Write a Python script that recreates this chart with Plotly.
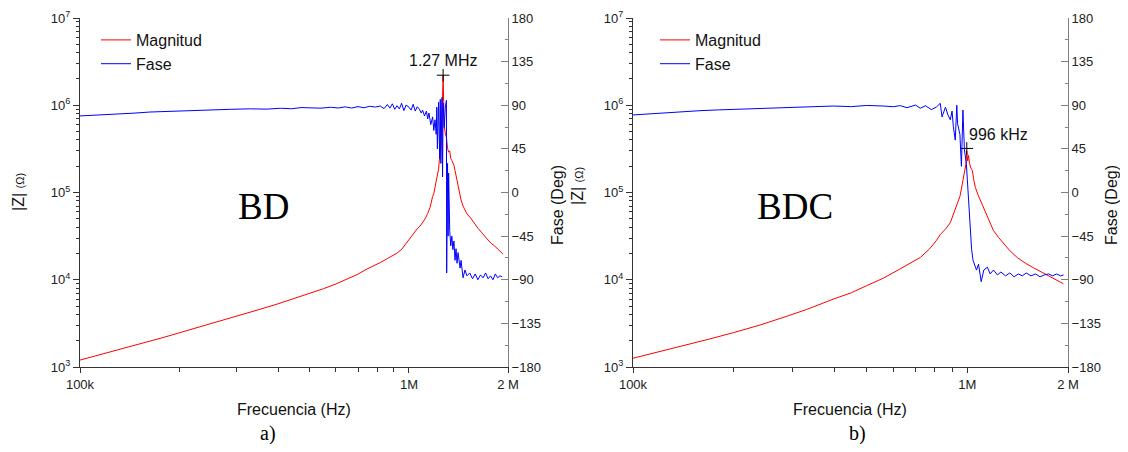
import math
import plotly.graph_objects as go

# ---------------- data ----------------
BD_MAG_F = [1.00e5, 1.10e5, 1.20e5, 1.32e5, 1.45e5, 1.60e5, 1.80e5, 2.00e5, 2.25e5, 2.50e5,
            2.80e5, 3.10e5, 3.50e5, 4.00e5, 4.50e5, 5.00e5, 5.50e5, 6.00e5, 6.50e5, 7.00e5,
            7.40e5, 7.80e5, 8.20e5, 8.60e5, 8.90e5, 9.20e5, 9.50e5, 9.75e5, 1.00e6, 1.02e6,
            1.04e6, 1.06e6, 1.08e6, 1.10e6, 1.12e6, 1.14e6, 1.16e6, 1.18e6, 1.19e6, 1.20e6,
            1.21e6, 1.22e6, 1.23e6, 1.24e6, 1.25e6, 1.26e6, 1.27e6, 1.275e6, 1.28e6, 1.29e6,
            1.30e6, 1.31e6, 1.32e6, 1.33e6, 1.34e6, 1.35e6, 1.37e6, 1.38e6, 1.40e6, 1.42e6,
            1.44e6, 1.46e6, 1.48e6, 1.50e6, 1.54e6, 1.58e6, 1.62e6, 1.66e6, 1.70e6, 1.74e6,
            1.78e6, 1.82e6, 1.86e6, 1.90e6, 1.93e6]
BD_MAG = [1200, 1320, 1440, 1590, 1750, 1930, 2190, 2460, 2790, 3120,
          3530, 3960, 4550, 5300, 6100, 6950, 7900, 8950, 10200, 11600,
          13100, 14300, 15800, 17500, 18800, 20200, 22300, 25500, 29000, 31500,
          34500, 38500, 41000, 45500, 50000, 57400, 68000, 90000, 97500, 115000,
          135000, 160000, 185000, 260000, 330000, 700000, 2210000, 1100000, 580000, 470000,
          430000, 320000, 290000, 300000, 245000, 233000, 205000, 179000, 135000, 105000,
          82000, 70000, 63000, 57000, 51000, 44000, 39000, 35000, 32000, 28500,
          26000, 24500, 22500, 20800, 19700]

BD_PH_F = [1.00e5, 1.10e5, 1.20e5, 1.32e5, 1.45e5, 1.63e5, 1.80e5, 2.00e5, 2.16e5, 2.50e5,
           2.86e5, 3.30e5, 3.70e5, 4.06e5, 4.40e5, 4.70e5, 5.00e5, 5.40e5, 5.77e5, 6.10e5,
           6.40e5, 6.70e5, 7.00e5, 7.30e5, 7.60e5, 7.90e5, 8.18e5, 8.40e5, 8.60e5, 8.75e5,
           8.90e5, 9.05e5, 9.20e5, 9.35e5, 9.50e5, 9.65e5, 9.80e5, 1.00e6, 1.015e6, 1.03e6,
           1.045e6, 1.06e6, 1.075e6, 1.09e6, 1.10e6, 1.115e6, 1.13e6, 1.14e6, 1.15e6, 1.165e6,
           1.18e6, 1.19e6, 1.20e6, 1.21e6, 1.215e6, 1.22e6, 1.23e6, 1.24e6, 1.245e6, 1.25e6,
           1.26e6, 1.265e6, 1.27e6, 1.28e6, 1.29e6, 1.30e6, 1.302e6, 1.31e6, 1.315e6, 1.32e6,
           1.33e6, 1.34e6, 1.35e6, 1.36e6, 1.37e6, 1.38e6, 1.39e6, 1.40e6, 1.41e6, 1.43e6,
           1.44e6, 1.46e6, 1.48e6, 1.50e6, 1.53e6, 1.56e6, 1.59e6, 1.62e6, 1.65e6, 1.68e6,
           1.71e6, 1.74e6, 1.77e6, 1.80e6, 1.83e6, 1.86e6, 1.89e6, 1.92e6]
BD_PH = [79.0, 79.6, 80.3, 81.0, 81.8, 83.0, 83.6, 84.3, 84.8, 85.3,
         85.8, 86.3, 86.0, 86.9, 86.4, 87.6, 87.3, 87.0, 87.9, 87.2,
         88.3, 87.1, 88.6, 87.4, 89.0, 88.1, 89.2, 86.5, 90.8, 87.0,
         91.5, 85.8, 89.5, 86.2, 92.0, 84.5, 90.2, 88.0, 85.0, 91.0,
         84.0, 88.5, 86.0, 82.0, 85.0, 79.0, 84.0, 76.0, 82.0, 70.0,
         78.0, 64.0, 75.0, 60.0, 88.0, 45.0, 93.0, 35.0, 96.0, 30.0,
         98.0, 16.0, 92.0, 67.0, 88.0, 95.0, -83.0, 30.0, -45.0, 20.0,
         -39.0, -55.0, -45.0, -59.0, -50.0, -70.0, -58.0, -73.0, -62.0, -78.0,
         -70.0, -88.0, -80.0, -86.0, -83.0, -89.0, -84.0, -90.0, -85.0, -88.0,
         -83.0, -89.0, -86.0, -90.0, -84.0, -88.0, -86.0, -87.0]

BDC_MAG_F = [1.00e5, 1.20e5, 1.41e5, 1.70e5, 2.00e5, 2.40e5, 2.81e5, 3.30e5, 3.97e5, 4.50e5,
             4.99e5, 5.60e5, 6.29e5, 6.80e5, 7.23e5, 7.70e5, 8.07e5, 8.30e5, 8.60e5, 8.89e5,
             9.10e5, 9.30e5, 9.50e5, 9.60e5, 9.70e5, 9.80e5, 9.90e5, 9.96e5, 1.002e6, 1.008e6,
             1.015e6, 1.025e6, 1.035e6, 1.045e6, 1.057e6, 1.075e6, 1.094e6, 1.12e6, 1.148e6, 1.17e6,
             1.197e6, 1.24e6, 1.282e6, 1.34e6, 1.412e6, 1.49e6, 1.577e6, 1.66e6, 1.738e6, 1.80e6,
             1.859e6, 1.938e6]
BDC_MAG = [1260, 1500, 1740, 2100, 2480, 3030, 3690, 4550, 5990, 7100,
           8530, 10400, 13300, 15700, 18000, 22500, 28000, 33000, 38000, 45000,
           58000, 70000, 90000, 110000, 140000, 165000, 210000, 300000, 230000, 266000,
           215000, 190000, 179000, 140000, 114000, 95000, 81000, 64000, 51600, 43000,
           36600, 30500, 25900, 21500, 17900, 15500, 13700, 12300, 11100, 10300,
           9740, 9000]

BDC_PH_F = [1.00e5, 1.23e5, 1.40e5, 1.587e5, 1.80e5, 1.99e5, 2.40e5, 2.81e5, 3.40e5, 3.97e5,
            4.50e5, 5.00e5, 5.60e5, 6.00e5, 6.30e5, 6.60e5, 7.00e5, 7.23e5, 7.50e5, 7.80e5,
            8.07e5, 8.30e5, 8.40e5, 8.60e5, 8.75e5, 8.89e5, 9.00e5, 9.08e5, 9.20e5, 9.30e5,
            9.35e5, 9.50e5, 9.60e5, 9.70e5, 9.80e5, 9.93e5, 1.00e6, 1.014e6, 1.03e6, 1.04e6,
            1.065e6, 1.08e6, 1.10e6, 1.12e6, 1.148e6, 1.17e6, 1.197e6, 1.23e6, 1.26e6, 1.30e6,
            1.34e6, 1.38e6, 1.42e6, 1.46e6, 1.50e6, 1.55e6, 1.60e6, 1.65e6, 1.70e6, 1.75e6,
            1.80e6, 1.85e6, 1.90e6, 1.94e6]
BDC_PH = [80.0, 82.3, 83.4, 84.4, 85.2, 85.8, 86.8, 87.9, 88.5, 89.2,
          88.6, 89.8, 89.2, 88.5, 89.6, 87.5, 90.2, 86.9, 89.5, 85.5,
          88.0, 92.0, 78.0, 88.0, 80.0, 75.0, 84.0, 68.0, 54.0, 90.0,
          71.0, 60.0, 27.0, 85.0, 44.0, 30.0, 13.0, -28.0, -59.0, -70.0,
          -80.0, -74.0, -92.0, -80.0, -77.0, -84.0, -80.0, -85.0, -82.0, -86.0,
          -83.0, -87.0, -84.0, -86.0, -83.0, -86.0, -84.0, -87.0, -85.0, -84.0,
          -86.0, -84.0, -86.0, -85.0]

BD_PEAK_F, BD_PEAK_Z, BD_PEAK_LABEL = 1.27e6, 2.21e6, "1.27 MHz"
BDC_PEAK_F, BDC_PEAK_Z, BDC_PEAK_LABEL = 9.96e5, 3.2e5, "996 kHz"

X_TICKS = [1e5, 1e6, 2e6]
X_TICK_TEXT = ["100k", "1M", "2 M"]
Z_TICKS = [1e3, 1e4, 1e5, 1e6, 1e7]
Z_TICK_TEXT = ["10<sup>3</sup>", "10<sup>4</sup>", "10<sup>5</sup>", "10<sup>6</sup>", "10<sup>7</sup>"]
PH_TICKS = [-180, -135, -90, -45, 0, 45, 90, 135, 180]

# ---------------- styling ----------------
# page body has an 8px margin, so the figure is drawn 8px in from the window edge
OFF = 8
W, H = 1128 - 2 * OFF, 452 - 2 * OFF
SANS = "Liberation Sans, Arial, sans-serif"
SERIF = "Liberation Serif, Times New Roman, serif"
RED = "#ff0000"
BLUE = "#0000ff"

def px_x(p):
    return (p - OFF) / W

def px_y(p):
    return 1 - (p - OFF) / H

Y_DOM = [px_y(367), px_y(18)]
X1_DOM = [px_x(80), px_x(508)]
X2_DOM = [px_x(633), px_x(1068)]

minor_x = [m * 1e5 for m in range(2, 10)]
minor_z = [m * 10 ** e for e in range(3, 7) for m in range(2, 10)]

fig = go.Figure()

def add_panel(fmag, zmag, fph, ph, peak_f, peak_z, xa, ya_mag, ya_ph, legend):
    fig.add_trace(go.Scatter(x=fmag, y=zmag, mode="lines", name="Magnitud",
                             line=dict(color=RED, width=1), xaxis=xa, yaxis=ya_mag,
                             legend=legend))
    fig.add_trace(go.Scatter(x=fph, y=ph, mode="lines", name="Fase",
                             line=dict(color=BLUE, width=1), xaxis=xa, yaxis=ya_ph,
                             legend=legend))
    fig.add_trace(go.Scatter(x=[peak_f], y=[peak_z], mode="markers", showlegend=False,
                             marker=dict(symbol="cross-thin", size=9,
                                         line=dict(color="#000", width=1)),
                             xaxis=xa, yaxis=ya_mag))

add_panel(BD_MAG_F, BD_MAG, BD_PH_F, BD_PH, BD_PEAK_F, BD_PEAK_Z, "x", "y", "y2", "legend")
add_panel(BDC_MAG_F, BDC_MAG, BDC_PH_F, BDC_PH, BDC_PEAK_F, BDC_PEAK_Z, "x2", "y3", "y4", "legend2")

tickfont = dict(family=SANS, size=13, color="#222")
axis_dark = "#333"
axis_grey = "#808080"

def xaxis_cfg(domain, anchor):
    return dict(type="log", domain=domain, anchor=anchor,
                range=[5, math.log10(2e6)], tickmode="array",
                tickvals=X_TICKS, ticktext=X_TICK_TEXT, ticks="outside", ticklen=5,
                tickcolor=axis_dark, showline=True, linecolor=axis_dark, linewidth=1,
                showgrid=False, zeroline=False, tickfont=tickfont, automargin=False,
                minor=dict(tickmode="array", tickvals=minor_x, ticks="outside",
                           ticklen=4, tickcolor=axis_dark, showgrid=False))

def zaxis_cfg(anchor):
    return dict(type="log", domain=Y_DOM, anchor=anchor, range=[3, 7],
                tickmode="array", tickvals=Z_TICKS, ticktext=Z_TICK_TEXT,
                ticks="outside", ticklen=6, tickcolor=axis_dark, showline=True,
                linecolor=axis_dark, linewidth=1, showgrid=False, zeroline=False,
                tickfont=tickfont, automargin=False,
                minor=dict(tickmode="array", tickvals=minor_z, ticks="outside",
                           ticklen=3, tickcolor=axis_dark, showgrid=False))

def phaxis_cfg(anchor, overlay):
    return dict(overlaying=overlay, side="right", anchor=anchor, range=[-180, 180],
                tickmode="array", tickvals=PH_TICKS, ticks="inside", ticklen=7,
                tickcolor=axis_grey, showline=True, linecolor=axis_grey, linewidth=1,
                showgrid=False, zeroline=False, tickfont=tickfont, automargin=False,
                minor=dict(dtick=22.5, ticks="inside", ticklen=3, tickcolor=axis_grey,
                           showgrid=False))

legend_common = dict(xanchor="left", yanchor="top", bgcolor="rgba(0,0,0,0)",
                     font=dict(family=SANS, size=16, color="#111"), tracegroupgap=0,
                     itemwidth=30)

fig.update_layout(
    width=W, height=H,
    margin=dict(l=0, r=0, t=0, b=0),
    paper_bgcolor="white", plot_bgcolor="white",
    font=dict(family=SANS, color="#111"),
    xaxis=xaxis_cfg(X1_DOM, "y"),
    yaxis=zaxis_cfg("x"),
    yaxis2=phaxis_cfg("x", "y"),
    xaxis2=xaxis_cfg(X2_DOM, "y3"),
    yaxis3=zaxis_cfg("x2"),
    yaxis4=phaxis_cfg("x2", "y3"),
    legend=dict(x=px_x(96), y=px_y(23), **legend_common),
    legend2=dict(x=px_x(655), y=px_y(23), **legend_common),
    showlegend=True,
)

title_font = dict(family=SANS, size=16, color="#111")
zlabel = "|Z| <span style='font-size:11px'>(Ω)</span>"
ann = [
    # axis titles
    dict(text="Frecuencia (Hz)", x=px_x(294), y=px_y(409), font=title_font),
    dict(text="Frecuencia (Hz)", x=px_x(850), y=px_y(409), font=title_font),
    dict(text=zlabel, x=px_x(18), y=px_y(192), textangle=-90, font=title_font),
    dict(text=zlabel, x=px_x(577), y=px_y(186), textangle=-90, font=title_font),
    dict(text="Fase (Deg)", x=px_x(557), y=px_y(205), textangle=-90, font=title_font),
    dict(text="Fase (Deg)", x=px_x(1111), y=px_y(205), textangle=-90, font=title_font),
    # panel labels
    dict(text="a)", x=px_x(268), y=px_y(433), font=dict(family=SERIF, size=20, color="#000")),
    dict(text="b)", x=px_x(857), y=px_y(433), font=dict(family=SERIF, size=20, color="#000")),
    dict(text="BD", x=px_x(263), y=px_y(206), font=dict(family=SERIF, size=37, color="#000")),
    dict(text="BDC", x=px_x(795), y=px_y(206), font=dict(family=SERIF, size=37, color="#000")),
]
for a in ann:
    a.update(xref="paper", yref="paper", showarrow=False, xanchor="center", yanchor="middle")

# peak labels tied to the data points
ann.append(dict(text=BD_PEAK_LABEL, xref="x", yref="y", x=math.log10(BD_PEAK_F),
                y=math.log10(BD_PEAK_Z), yshift=15, showarrow=False,
                xanchor="center", yanchor="middle", font=title_font))
ann.append(dict(text=BDC_PEAK_LABEL, xref="x2", yref="y3", x=math.log10(BDC_PEAK_F),
                y=math.log10(BDC_PEAK_Z), yshift=14, xshift=0, showarrow=False,
                xanchor="left", yanchor="middle", font=title_font))
fig.update_layout(annotations=ann)

fig.write_html("out.html")
